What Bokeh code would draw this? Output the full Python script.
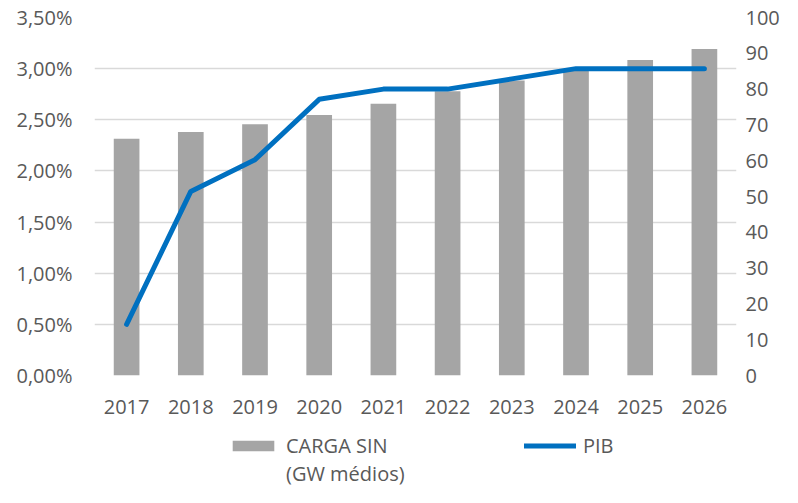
from bokeh.plotting import figure
from bokeh.layouts import column
from bokeh.models import (Range1d, LinearAxis, FixedTicker, CustomJSTickFormatter,
                          Legend, LegendItem, ColumnDataSource)
from bokeh.embed import file_html
from bokeh.resources import INLINE

years = ["2017", "2018", "2019", "2020", "2021", "2022", "2023", "2024", "2025", "2026"]
carga_sin = [66.1, 68.0, 70.2, 72.8, 75.9, 79.4, 82.4, 85.7, 88.1, 91.2]
pib = [0.50, 1.80, 2.11, 2.70, 2.80, 2.80, 2.90, 3.00, 3.00, 3.00]
left_ticks = [0, 0.5, 1.0, 1.5, 2.0, 2.5, 3.0, 3.5]
right_ticks = [0, 10, 20, 30, 40, 50, 60, 70, 80, 90, 100]

FONT = "Open Sans"
TXT = "#595959"
BAR = "#a5a5a5"
LINE = "#0070c0"

src = ColumnDataSource(dict(year=years, carga=carga_sin, pib=pib))

p = figure(x_range=years, y_range=Range1d(0, 3.5), width=782, height=427,
           output_backend="svg", toolbar_location=None,
           min_border_left=94, min_border_right=46, min_border_top=17, min_border_bottom=52)
p.extra_y_ranges = {"right": Range1d(0, 100)}
p.outline_line_color = None
p.background_fill_color = "white"
p.border_fill_color = "white"

p.vbar(x="year", top="carga", width=0.4, source=src, y_range_name="right",
       fill_color=BAR, line_color=None)
p.line(x="year", y="pib", source=src, line_color=LINE, line_width=5,
       line_cap="round", line_join="round")

la = p.yaxis[0]
la.ticker = FixedTicker(ticks=left_ticks)
la.formatter = CustomJSTickFormatter(code="return tick.toFixed(2).replace('.', ',') + '%';")

ra = LinearAxis(y_range_name="right", ticker=FixedTicker(ticks=right_ticks))
p.add_layout(ra, "right")

for ax in [la, ra, p.xaxis[0]]:
    ax.axis_line_color = None
    ax.major_tick_line_color = None
    ax.minor_tick_line_color = None
    ax.major_tick_in = 0
    ax.major_tick_out = 0
    ax.major_label_text_font = FONT
    ax.major_label_text_font_size = "20px"
    ax.major_label_text_color = TXT
la.major_label_standoff = 22
ra.major_label_standoff = 9
p.xaxis[0].major_label_standoff = 24

p.xgrid.grid_line_color = None
p.ygrid.grid_line_color = "#d9d9d9"
p.ygrid.grid_line_width = 1.5
p.ygrid.ticker = FixedTicker(ticks=left_ticks)

# legend strip (separate figure so the legend is not clipped by the chart frame)
p2 = figure(width=782, height=60, output_backend="svg", toolbar_location=None,
            x_axis_type=None, y_axis_type=None, x_range=years, y_range=Range1d(0, 100),
            min_border=0, min_border_left=94, min_border_right=46,
            min_border_top=0, min_border_bottom=0)
p2.outline_line_color = None
p2.grid.grid_line_color = None
bar_proxy = p2.vbar(x="year", top="carga", width=0.4, source=src,
                    fill_color=BAR, line_color=None, visible=False)
line_proxy = p2.line(x="year", y="carga", source=src, line_color=LINE, line_width=5,
                     line_cap="round", visible=False)
blank = p2.scatter(x="year", y="carga", source=src, fill_alpha=0, line_alpha=0, visible=False)

common = dict(glyph_width=52, glyph_height=13, label_standoff=7, spacing=0,
              padding=0, margin=0, border_line_color=None, background_fill_alpha=0,
              inactive_fill_alpha=0,
              label_text_font=FONT, label_text_font_size="20px", label_text_color=TXT)
leg_a = Legend(items=[LegendItem(label="CARGA SIN", renderers=[bar_proxy])],
               location=(133, 28), **common)
leg_c = Legend(items=[LegendItem(label="(GW médios)", renderers=[blank])],
               location=(133, 0), **common)
leg_b = Legend(items=[LegendItem(label="PIB", renderers=[line_proxy])],
               location=(430, 28), **common)
for lg in (leg_a, leg_c, leg_b):
    p2.add_layout(lg, "center")

open("out.html", "w").write(file_html(column(p, p2, spacing=0), INLINE))
